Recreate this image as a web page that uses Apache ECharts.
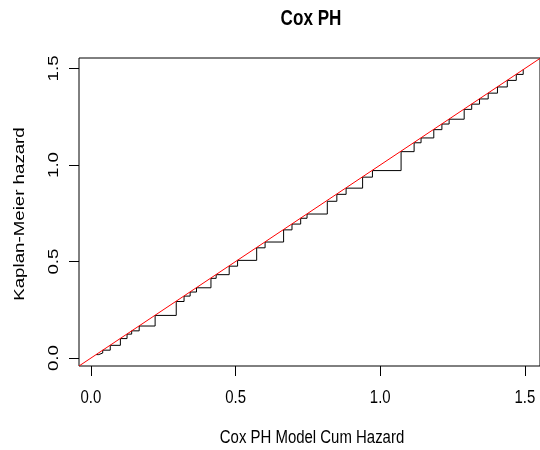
<!DOCTYPE html>
<html>
<head>
<meta charset="utf-8">
<script src="https://cdn.jsdelivr.net/npm/echarts@6/dist/echarts.min.js"></script>
<style>
html,body{margin:0;padding:0;background:#fff;}
#chart{width:540px;height:450px;}
</style>
</head>
<body>
<div id="chart"></div>
<script>
// Cox PH model cumulative hazard (x) at each event, and Kaplan-Meier cumulative hazard (y)
const coxHaz = [0.018, 0.027, 0.041, 0.067, 0.102, 0.125, 0.141, 0.167, 0.222, 0.295,
  0.322, 0.343, 0.365, 0.415, 0.433, 0.478, 0.507, 0.573, 0.602, 0.666,
  0.695, 0.725, 0.747, 0.817, 0.850, 0.882, 0.939, 0.973, 1.072, 1.117,
  1.141, 1.185, 1.213, 1.238, 1.290, 1.316, 1.343, 1.373, 1.405, 1.439,
  1.470, 1.494];
const kmHaz = [0.018, 0.026, 0.041, 0.066, 0.101, 0.124, 0.141, 0.166, 0.221, 0.293,
  0.321, 0.342, 0.364, 0.413, 0.432, 0.476, 0.506, 0.571, 0.601, 0.664,
  0.694, 0.724, 0.746, 0.812, 0.848, 0.880, 0.937, 0.971, 1.069, 1.115,
  1.140, 1.183, 1.212, 1.237, 1.288, 1.315, 1.342, 1.372, 1.404, 1.438,
  1.469, 1.495];
const xTicks = [0, 0.5, 1.0, 1.5];
const yTicks = [0, 0.5, 1.0, 1.5];
const xRange = [-0.041, 1.552];
const yRange = [-0.041, 1.554];
const titleText = 'Cox PH';
const xName = 'Cox PH Model Cum Hazard';
const yName = 'Kaplan-Meier hazard';

const stepData = coxHaz.map((x, i) => [x, kmHaz[i]]);
const lo = Math.min(xRange[0], yRange[0]);
const hi = Math.max(xRange[1], yRange[1]);
const refLine = [[lo, lo], [hi, hi]];

const FAM = "'Liberation Sans', Arial, sans-serif";
const SQ = 0.8; // horizontal squeeze of the original picture

const chart = echarts.init(document.getElementById('chart'), null, {renderer: 'canvas'});
chart.setOption({
  animation: false,
  backgroundColor: '#fff',
  grid: {left: 79, top: 58, width: 462, height: 308, show: true,
    borderColor: '#000', borderWidth: 1, backgroundColor: 'transparent'},
  xAxis: {
    type: 'value', min: xRange[0], max: xRange[1],
    axisLine: {show: false, onZero: false},
    splitLine: {show: false},
    axisTick: {show: true, inside: false, customValues: xTicks, length: 10, lineStyle: {color: '#000', width: 1}},
    axisLabel: {show: false}
  },
  yAxis: {
    type: 'value', min: yRange[0], max: yRange[1],
    axisLine: {show: false, onZero: false},
    splitLine: {show: false},
    axisTick: {show: true, inside: false, customValues: yTicks, length: 10, lineStyle: {color: '#000', width: 1}},
    axisLabel: {show: false}
  },
  series: [
    {type: 'line', step: 'end', data: stepData, symbol: 'none',
      lineStyle: {color: '#000', width: 1}, clip: true, z: 2},
    {type: 'line', data: refLine, symbol: 'none',
      lineStyle: {color: '#ff0000', width: 1}, clip: true, z: 3}
  ]
});

// Text laid out through the axes' own scales
const gridRect = {x: 79, y: 58, w: 462, h: 308};
const hText = (txt, x, y, size, weight) => ({
  type: 'text', x: x, y: y, scaleX: SQ, silent: true,
  style: {text: txt, font: (weight || 'normal') + ' ' + size + 'px ' + FAM,
    align: 'center', verticalAlign: 'middle', fill: '#000'}
});
const vText = (txt, x, y, size) => ({
  type: 'text', x: x, y: y, rotation: Math.PI / 2, scaleY: SQ, silent: true,
  style: {text: txt, font: size + 'px ' + FAM,
    align: 'center', verticalAlign: 'middle', fill: '#000'}
});
const els = [];
xTicks.forEach(v => {
  const px = chart.convertToPixel({xAxisIndex: 0}, v);
  els.push(hText(v.toFixed(1), px, 398, 18.7));
});
yTicks.forEach(v => {
  const py = chart.convertToPixel({yAxisIndex: 0}, v);
  els.push(vText(v.toFixed(1), 54, py, 18.7));
});
els.push(hText(titleText, 311, 19, 21.4, 'bold'));
els.push(hText(xName, 312, 438, 18.7));
els.push(vText(yName, 20, 214, 18.7));
chart.setOption({graphic: {elements: els}});
</script>
</body>
</html>
